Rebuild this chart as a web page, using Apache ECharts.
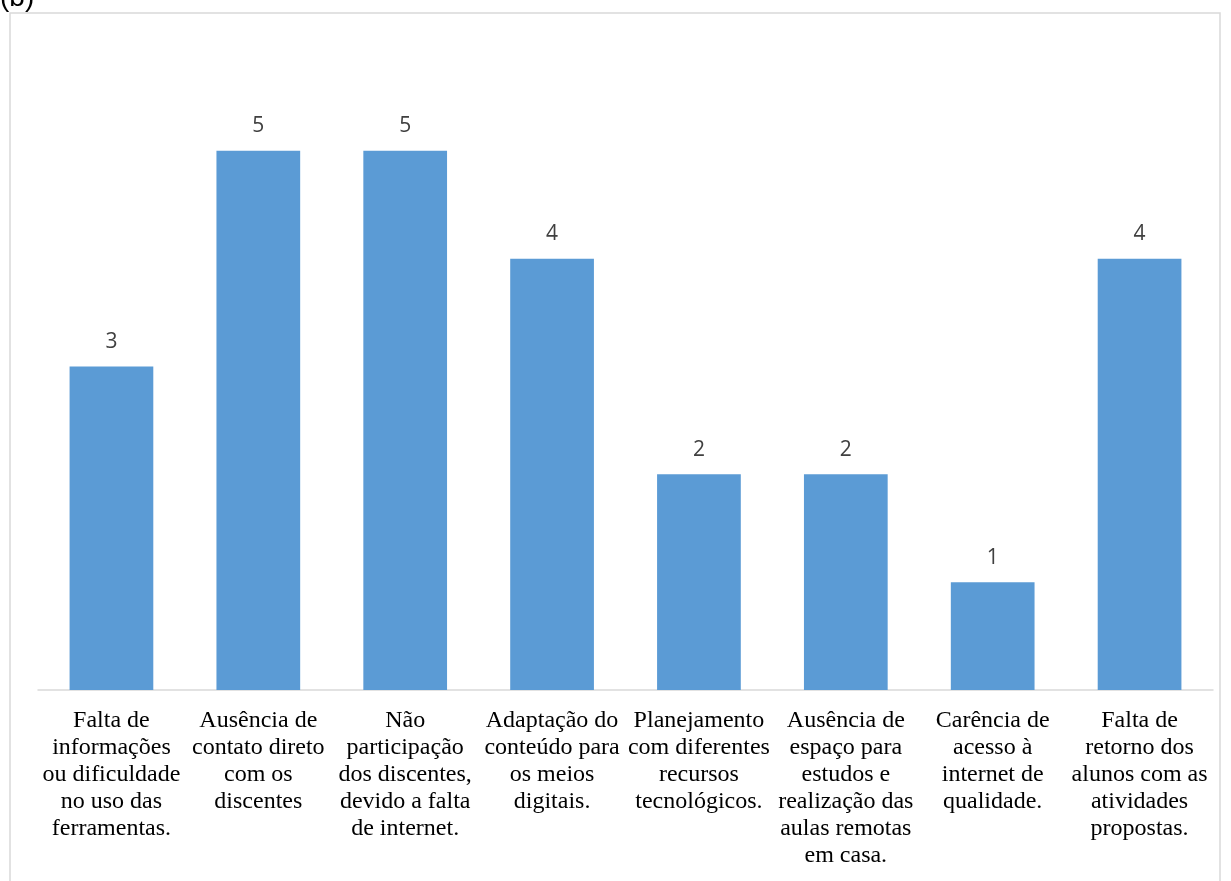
<!DOCTYPE html>
<html>
<head>
<meta charset="utf-8">
<script src="https://cdn.jsdelivr.net/npm/echarts@6/dist/echarts.min.js"></script>
<style>
html,body{margin:0;padding:0;background:#fff;}
#chart{width:1231px;height:881px;}
</style>
</head>
<body>
<div id="chart"></div>
<script>
const categories = [
  "Falta de\ninformações\nou dificuldade\nno uso das\nferramentas.",
  "Ausência de\ncontato direto\ncom os\ndiscentes",
  "Não\nparticipação\ndos discentes,\ndevido a falta\nde internet.",
  "Adaptação do\nconteúdo para\nos meios\ndigitais.",
  "Planejamento\ncom diferentes\nrecursos\ntecnológicos.",
  "Ausência de\nespaço para\nestudos e\nrealização das\naulas remotas\nem casa.",
  "Carência de\nacesso à\ninternet de\nqualidade.",
  "Falta de\nretorno dos\nalunos com as\natividades\npropostas."
];
const values = [3, 5, 5, 4, 2, 2, 1, 4];
const panelLabel = "(b)";

const chart = echarts.init(document.getElementById('chart'), null, {renderer: 'canvas'});
chart.setOption({
  backgroundColor: '#ffffff',
  animation: false,
  graphic: [
    {type: 'rect', shape: {x: 10, y: 13, width: 1210, height: 900},
     style: {fill: 'none', stroke: '#d9d9d9', lineWidth: 1.5}},
    {type: 'text', x: 0, y: -16,
     style: {text: panelLabel, font: '28px "Liberation Sans", Arial, sans-serif', fill: '#000'}}
  ],
  grid: {left: 38, right: 18, top: 43, bottom: 191, containLabel: false},
  xAxis: {
    type: 'category',
    data: categories,
    axisLine: {show: true, lineStyle: {color: '#d9d9d9', width: 1.5}},
    axisTick: {show: false},
    axisLabel: {
      interval: 0,
      margin: 17,
      fontFamily: '"Liberation Serif", "Times New Roman", serif',
      fontSize: 24,
      lineHeight: 27,
      color: '#000',
      align: 'center'
    }
  },
  yAxis: {
    type: 'value',
    min: 0, max: 6, interval: 1,
    show: false,
    splitLine: {show: false}
  },
  series: [{
    type: 'bar',
    data: values,
    barWidth: '57%',
    itemStyle: {color: '#5b9bd5'},
    label: {
      show: true,
      position: 'top',
      distance: 14,
      fontFamily: '"Open Sans", "Liberation Sans", sans-serif',
      fontSize: 21,
      color: '#404040'
    }
  }]
});
</script>
</body>
</html>
